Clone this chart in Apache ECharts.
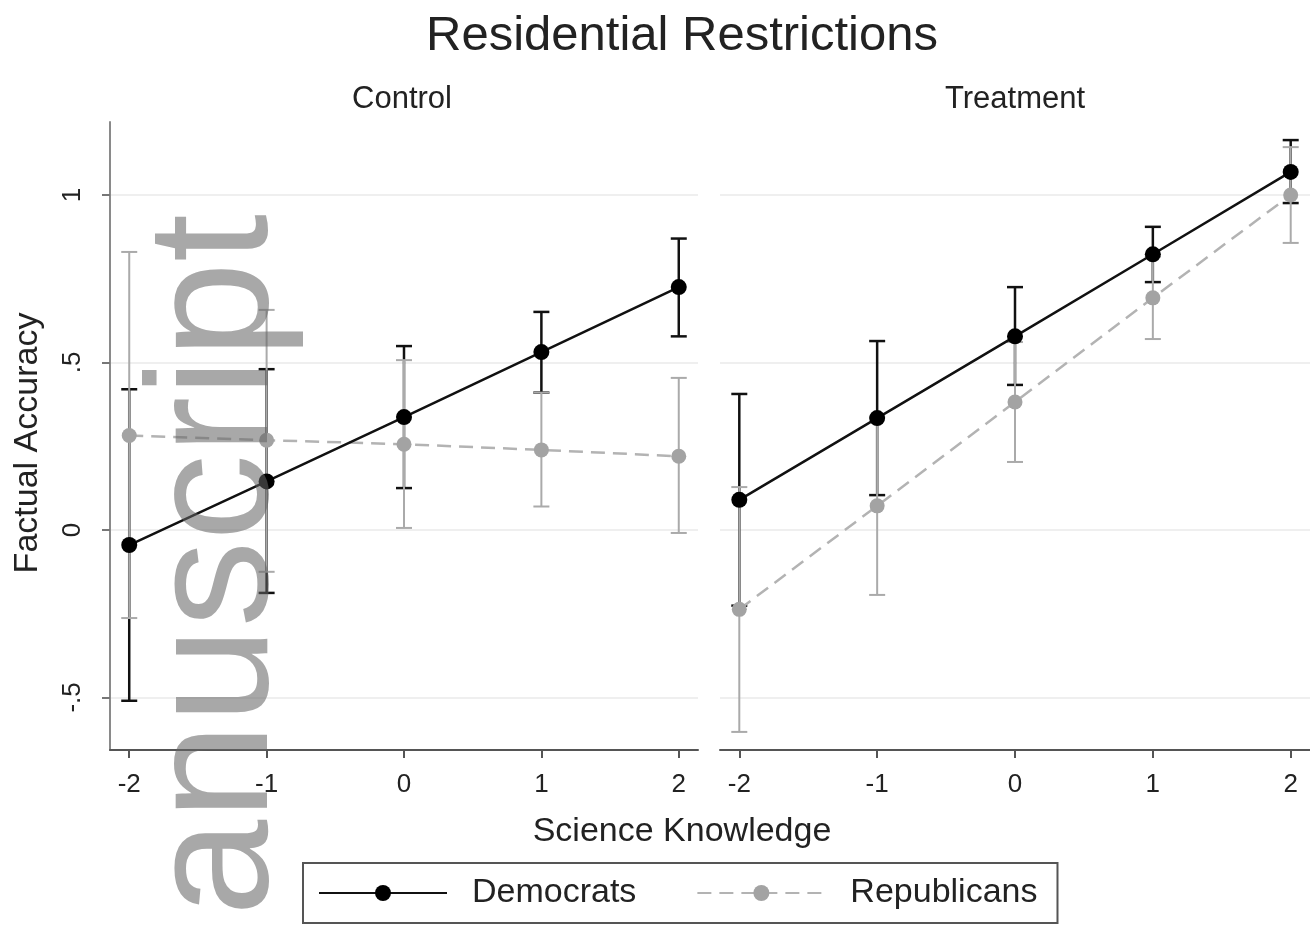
<!DOCTYPE html>
<html>
<head>
<meta charset="utf-8">
<title>Residential Restrictions</title>
<script src="https://cdn.jsdelivr.net/npm/echarts@6/dist/echarts.min.js"></script>
<style>
  html, body { margin: 0; padding: 0; background: #fff; }
  #chart { width: 1310px; height: 927px; }
</style>
</head>
<body>
<div id="chart"></div>
<script>
// Science knowledge levels (x positions in both panels)
const knowledge = [-2, -1, 0, 1, 2];
const yTicks = [-0.5, 0, 0.5, 1];

// Control panel: predicted factual accuracy with 95% intervals
const controlDem     = [-0.045, 0.145, 0.337, 0.531, 0.725];
const controlDemLow  = [-0.510, -0.188, 0.125, 0.410, 0.578];
const controlDemHigh = [0.420, 0.480, 0.549, 0.651, 0.870];
const controlRep     = [0.282, 0.268, 0.256, 0.239, 0.220];
const controlRepLow  = [-0.263, -0.125, 0.006, 0.070, -0.009];
const controlRepHigh = [0.830, 0.657, 0.507, 0.410, 0.454];

// Treatment panel
const treatDem     = [0.090, 0.334, 0.578, 0.823, 1.069];
const treatDemLow  = [-0.226, 0.104, 0.433, 0.740, 0.976];
const treatDemHigh = [0.406, 0.564, 0.725, 0.905, 1.164];
const treatRep     = [-0.237, 0.072, 0.382, 0.693, 1.000];
const treatRepLow  = [-0.603, -0.194, 0.203, 0.570, 0.857];
const treatRepHigh = [0.128, 0.338, 0.561, 0.816, 1.143];

const FONT = '"Liberation Sans", Arial, Helvetica, sans-serif';
const DEM_COLOR = '#000000';
const REP_POINT = '#a3a3a3';
const REP_LINE = '#b3b3b3';
const REP_BAR = '#aaaaaa';

function points(ys) { return knowledge.map((x, i) => [x, ys[i]]); }
function intervals(lo, hi) { return knowledge.map((x, i) => [x, lo[i], hi[i]]); }

// vertical interval with horizontal caps at both ends
function errorBar(color, width, capHalf) {
  return function (params, api) {
    const x = api.value(0);
    const top = api.coord([x, api.value(2)]);
    const bot = api.coord([x, api.value(1)]);
    const st = { stroke: color, lineWidth: width };
    return {
      type: 'group',
      children: [
        { type: 'line', shape: { x1: top[0], y1: top[1], x2: bot[0], y2: bot[1] }, style: st },
        { type: 'line', shape: { x1: top[0] - capHalf, y1: top[1], x2: top[0] + capHalf, y2: top[1] }, style: st },
        { type: 'line', shape: { x1: bot[0] - capHalf, y1: bot[1], x2: bot[0] + capHalf, y2: bot[1] }, style: st }
      ]
    };
  };
}

function xAxisFor(gridIndex) {
  return {
    type: 'value', gridIndex: gridIndex, min: -2.14, max: 2.14,
    axisLine: { show: true, onZero: false, lineStyle: { color: '#555', width: 2 } },
    axisTick: { show: true, customValues: knowledge, length: 8, lineStyle: { color: '#555', width: 2 } },
    axisLabel: { customValues: knowledge, fontSize: 26, color: '#222', fontFamily: FONT, margin: 22 },
    splitLine: { show: false }
  };
}

function yAxisFor(gridIndex, showAxis) {
  return {
    type: 'value', gridIndex: gridIndex, min: -0.657, max: 1.218,
    axisLine: { show: showAxis, onZero: false, lineStyle: { color: '#8a8a8a', width: 2 } },
    axisTick: { show: showAxis, customValues: yTicks, length: 8, lineStyle: { color: '#777', width: 2 } },
    axisLabel: {
      show: showAxis, customValues: yTicks, rotate: 90, fontSize: 26, color: '#222', fontFamily: FONT, margin: 24,
      formatter: v => (v === 0 ? '0' : String(v).replace(/^(-?)0\./, '$1.'))
    },
    splitLine: { show: true, lineStyle: { color: '#efefef', width: 2 } }
  };
}

function panelSeries(idx, dem, demLo, demHi, rep, repLo, repHi) {
  return [
    {
      name: 'Democrats interval', type: 'custom', xAxisIndex: idx, yAxisIndex: idx,
      renderItem: errorBar('#111', 2.5, 8), encode: { x: 0, y: [1, 2] },
      data: intervals(demLo, demHi), z: 2
    },
    {
      name: 'Republicans interval', type: 'custom', xAxisIndex: idx, yAxisIndex: idx,
      renderItem: errorBar(REP_BAR, 2, 8), encode: { x: 0, y: [1, 2] },
      data: intervals(repLo, repHi), z: 3
    },
    {
      name: 'Republicans', type: 'line', xAxisIndex: idx, yAxisIndex: idx,
      data: points(rep), symbol: 'circle', symbolSize: 15,
      itemStyle: { color: REP_POINT },
      lineStyle: { color: REP_LINE, width: 2.5, type: [14, 8] }, z: 4
    },
    {
      name: 'Democrats', type: 'line', xAxisIndex: idx, yAxisIndex: idx,
      data: points(dem), symbol: 'circle', symbolSize: 16,
      itemStyle: { color: DEM_COLOR },
      lineStyle: { color: '#111', width: 2.5 }, z: 5
    }
  ];
}

const chart = echarts.init(document.getElementById('chart'), null, { renderer: 'canvas' });

chart.setOption({
  animation: false,
  backgroundColor: '#ffffff',
  textStyle: { fontFamily: FONT },
  grid: [
    { left: 110, right: 612, top: 122, bottom: 177, outerBoundsMode: 'none' },
    { left: 720, right: 0, top: 122, bottom: 177, outerBoundsMode: 'none' }
  ],
  xAxis: [xAxisFor(0), xAxisFor(1)],
  yAxis: [yAxisFor(0, true), yAxisFor(1, false)],
  legend: {
    data: ['Democrats', 'Republicans'],
    left: 303, top: 863,
    orient: 'horizontal',
    itemWidth: 128, itemHeight: 20, itemGap: 60,
    padding: [13, 20, 13, 15],
    borderColor: '#555', borderWidth: 2, borderRadius: 0,
    backgroundColor: '#fff',
    textStyle: { fontSize: 34, color: '#222', fontFamily: FONT, padding: [0, 0, 0, 20] },
    selectedMode: false
  },
  graphic: [
    { type: 'text', x: 682, y: 36, style: { text: 'Residential Restrictions', font: '49px ' + FONT, fill: '#222', textAlign: 'center', textVerticalAlign: 'middle' } },
    { type: 'text', x: 402, y: 99, style: { text: 'Control', font: '31px ' + FONT, fill: '#222', textAlign: 'center', textVerticalAlign: 'middle' } },
    { type: 'text', x: 1015, y: 99, style: { text: 'Treatment', font: '31px ' + FONT, fill: '#222', textAlign: 'center', textVerticalAlign: 'middle' } },
    { type: 'text', x: 682, y: 832, style: { text: 'Science Knowledge', font: '34px ' + FONT, fill: '#222', textAlign: 'center', textVerticalAlign: 'middle' } },
    { type: 'text', x: 28, y: 443, rotation: Math.PI / 2, style: { text: 'Factual Accuracy', font: '34px ' + FONT, fill: '#222', textAlign: 'center', textVerticalAlign: 'middle' } },
    { type: 'text', x: 219, y: 214, rotation: Math.PI / 2, z: 100, silent: true,
      style: { text: 'Manuscript', font: '173px ' + FONT, fill: 'rgba(100,100,100,0.56)', textAlign: 'right', textVerticalAlign: 'middle' } }
  ],
  series: [].concat(
    panelSeries(0, controlDem, controlDemLow, controlDemHigh, controlRep, controlRepLow, controlRepHigh),
    panelSeries(1, treatDem, treatDemLow, treatDemHigh, treatRep, treatRepLow, treatRepHigh)
  )
});
</script>
</body>
</html>
